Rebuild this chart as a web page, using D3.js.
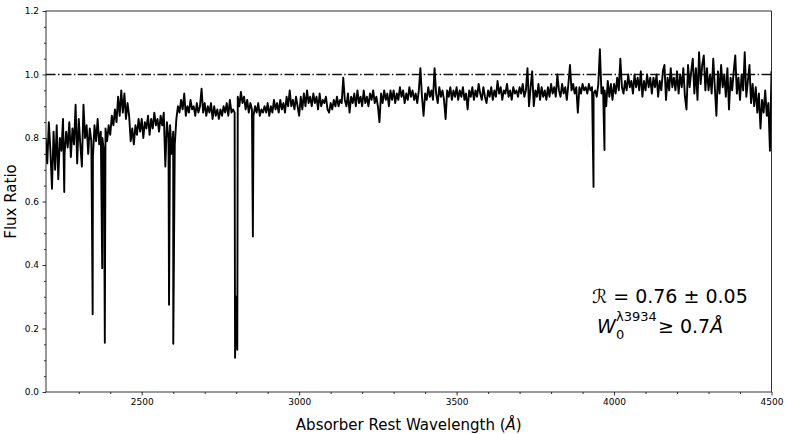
<!DOCTYPE html>
<html lang="en">
<head>
    <meta charset="utf-8">
    <title>Flux Ratio</title>
    <script src="https://d3js.org/d3.v7.min.js"></script>
    <style>
        body { margin: 0; background: #fff; }
        text { font-family: "DejaVu Sans", sans-serif; fill: #000; }
    </style>
</head>
<body>
<svg id="chart"></svg>
<script>

    // flux ratio sampled every 5 Å, one row = 100 Å, first value at wlStart
    const wlStart = 2195, wlStep = 5;
    const flux = [
        0.80,0.72,0.85,0.76,0.64,0.82,0.70,0.84,0.67,0.80,0.76,0.86,0.75,0.82,0.77,0.85,0.74,0.83,0.78,0.905,
        0.72,0.86,0.78,0.71,0.905,0.80,0.84,0.75,0.83,0.79,0.74,0.84,0.79,0.86,0.78,0.82,0.80,0.76,0.83,0.79,
        0.84,0.81,0.87,0.84,0.89,0.85,0.93,0.87,0.95,0.88,0.94,0.86,0.91,0.87,0.79,0.83,0.78,0.84,0.81,0.86,
        0.82,0.86,0.80,0.85,0.83,0.87,0.81,0.86,0.83,0.88,0.84,0.86,0.82,0.87,0.84,0.88,0.71,0.85,0.80,0.84,
        0.75,0.82,0.78,0.86,0.90,0.88,0.92,0.89,0.94,0.87,0.90,0.88,0.92,0.89,0.90,0.87,0.91,0.88,0.90,0.955,
        0.88,0.91,0.87,0.90,0.88,0.91,0.86,0.90,0.87,0.89,0.86,0.89,0.87,0.90,0.88,0.91,0.87,0.92,0.88,0.89,
        0.88,0.30,0.93,0.90,0.945,0.91,0.93,0.89,0.92,0.88,0.91,0.89,0.87,0.90,0.88,0.91,0.87,0.89,0.88,0.90,
        0.88,0.91,0.87,0.90,0.88,0.92,0.89,0.91,0.88,0.92,0.89,0.91,0.88,0.93,0.90,0.95,0.90,0.92,0.89,0.93,
        0.90,0.87,0.93,0.89,0.94,0.90,0.95,0.91,0.93,0.90,0.94,0.91,0.93,0.89,0.94,0.90,0.92,0.91,0.93,0.89,
        0.88,0.91,0.89,0.92,0.90,0.93,0.90,0.92,0.91,0.99,0.92,0.90,0.94,0.88,0.93,0.91,0.94,0.90,0.95,0.91,
        0.93,0.90,0.95,0.91,0.93,0.90,0.94,0.92,0.95,0.91,0.93,0.90,0.85,0.94,0.91,0.95,0.92,0.94,0.90,0.95,
        0.92,0.95,0.91,0.94,0.92,0.96,0.93,0.95,0.91,0.94,0.92,0.96,0.93,0.95,0.92,0.94,0.91,0.95,1.02,0.93,
        0.87,0.94,0.92,0.96,0.93,0.95,0.92,1.02,0.94,0.91,0.96,0.93,0.95,0.92,0.86,0.95,0.93,0.96,0.92,0.95,
        0.93,0.96,0.92,0.95,0.93,0.96,0.92,0.94,0.89,0.95,0.93,0.96,0.92,0.95,0.93,0.97,0.94,0.92,0.96,0.93,
        0.91,0.95,0.93,0.96,0.92,0.95,0.93,0.98,0.94,0.96,0.92,0.95,0.94,0.97,0.93,0.95,0.92,0.96,0.94,0.95,
        0.93,0.96,0.94,0.97,0.93,0.95,1.02,0.90,0.96,1.01,0.90,0.95,0.93,0.97,0.92,0.96,0.93,0.95,0.92,0.96,
        0.93,0.97,0.94,0.96,0.93,1.00,0.95,0.93,0.97,0.94,0.96,0.92,0.97,1.03,0.95,0.97,0.94,0.96,0.88,0.96,
        0.94,0.97,0.95,0.96,0.94,0.97,0.95,0.96,0.94,0.95,0.93,0.97,1.08,0.94,0.96,0.95,0.90,0.98,0.93,0.97,
        0.92,0.97,0.94,0.99,0.95,1.05,0.96,0.94,0.98,0.95,1.00,0.96,0.98,0.94,1.00,0.96,0.99,0.95,1.01,0.93,
        0.98,0.95,1.00,0.96,0.99,0.94,0.99,0.96,1.00,0.93,0.98,0.95,1.01,1.03,0.92,0.99,0.95,1.02,0.96,0.99,
        0.95,1.01,0.94,1.00,0.96,1.02,0.93,0.89,1.03,0.96,1.01,1.05,0.94,1.02,0.92,1.07,0.97,1.03,1.06,0.95,
        1.02,0.95,1.00,0.94,1.05,0.96,0.87,1.01,0.94,1.03,0.96,1.00,0.93,1.02,0.89,0.99,0.95,1.01,1.06,0.94,
        0.99,0.92,1.00,0.95,1.07,0.93,0.98,1.03,0.91,0.97,0.90,0.96,0.88,0.94,0.83,0.92,0.88,0.95,0.87,0.91,0.76,1.01
    ];

    // strong absorption lines: rest wavelength and flux at line centre
    const lineWave  = [2254.0, 2344.2, 2374.5, 2382.8, 2586.7, 2600.2, 2796.4, 2803.5, 2853.0, 3934.8, 3969.6];
    const lineDepth = [0.63,   0.245,  0.39,   0.155,  0.275,  0.152,  0.108,  0.133,  0.49,   0.646,  0.762];

    const xTicks = [2500, 3000, 3500, 4000, 4500];
    const xMinorTicks = [2300, 2400, 2600, 2700, 2800, 2900, 3100, 3200, 3300, 3400,
                         3600, 3700, 3800, 3900, 4100, 4200, 4300, 4400];
    const yTicks = [0.0, 0.2, 0.4, 0.6, 0.8, 1.0, 1.2];
    const yMinorTicks = [0.05, 0.1, 0.15, 0.25, 0.3, 0.35, 0.45, 0.5, 0.55, 0.65, 0.7, 0.75,
                         0.85, 0.9, 0.95, 1.05, 1.1, 1.15];

    let margin = {top: 11, right: 18.5, bottom: 42, left: 46},
        width = 790,
        height = 434,
        chartWidth = width - margin.left - margin.right,
        chartHeight = height - margin.top - margin.bottom;

    let svg = d3.select("#chart")
        .attr("width", width)
        .attr("height", height);

    let x = d3.scaleLinear().domain([2196, 4500]).range([0, chartWidth]);
    let y = d3.scaleLinear().domain([0, 1.2]).range([chartHeight, 0]);

    let spectrum = flux.map((f, i) => ({wl: wlStart + i * wlStep, f: f}));
    lineWave.forEach((w, i) => spectrum.push({wl: w, f: lineDepth[i]}));
    spectrum.sort((a, b) => a.wl - b.wl);

    let g = svg.append("g")
        .attr("transform", `translate(${margin.left},${margin.top})`);

    g.append("clipPath").attr("id", "plotclip")
        .append("rect")
        .attr("width", chartWidth)
        .attr("height", chartHeight);

    // continuum reference at 1.0
    g.append("line")
        .attr("x1", 0).attr("x2", chartWidth)
        .attr("y1", y(1.0)).attr("y2", y(1.0))
        .attr("stroke", "#111")
        .attr("stroke-width", 1.5)
        .attr("stroke-dasharray", "9.6,2.4,1.5,2.4");

    let line = d3.line()
        .x(d => x(d.wl))
        .y(d => y(d.f));

    g.append("path")
        .datum(spectrum)
        .attr("clip-path", "url(#plotclip)")
        .attr("fill", "none")
        .attr("stroke", "#000")
        .attr("stroke-width", 1.9)
        .attr("stroke-linejoin", "round")
        .attr("d", line);

    // axes
    function styleAxis(sel) {
        sel.select(".domain").remove();
        sel.selectAll(".tick line").attr("stroke", "#000").attr("stroke-width", 0.8);
        sel.selectAll(".tick text").attr("font-size", 9).attr("font-family", "DejaVu Sans");
    }

    g.append("g")
        .attr("transform", `translate(0,${chartHeight})`)
        .call(d3.axisBottom(x).tickValues(xTicks).tickSize(3.5).tickPadding(3.5).tickFormat(d3.format("d")))
        .call(styleAxis);

    g.append("g")
        .attr("transform", `translate(0,${chartHeight})`)
        .call(d3.axisBottom(x).tickValues(xMinorTicks).tickSize(2).tickFormat(""))
        .call(styleAxis);

    g.append("g")
        .call(d3.axisLeft(y).tickValues(yTicks).tickSize(3.5).tickPadding(3.5).tickFormat(d3.format(".1f")))
        .call(styleAxis);

    g.append("g")
        .call(d3.axisLeft(y).tickValues(yMinorTicks).tickSize(2).tickFormat(""))
        .call(styleAxis);

    // frame
    g.append("rect")
        .attr("width", chartWidth)
        .attr("height", chartHeight)
        .attr("fill", "none")
        .attr("stroke", "#000")
        .attr("stroke-width", 0.8);

    // axis labels
    let xl = svg.append("text")
        .attr("x", margin.left + chartWidth / 2)
        .attr("y", 430)
        .attr("text-anchor", "middle")
        .attr("font-size", 15);
    xl.append("tspan").text("Absorber Rest Wavelength (");
    xl.append("tspan").attr("font-style", "italic").text("Å");
    xl.append("tspan").text(")");

    svg.append("text")
        .attr("transform", `translate(11,${margin.top + chartHeight / 2}) rotate(-90)`)
        .attr("text-anchor", "middle")
        .attr("dominant-baseline", "central")
        .attr("font-size", 15)
        .text("Flux Ratio");

    // annotation
    svg.append("text")
        .attr("x", 592).attr("y", 303)
        .attr("font-size", 19)
        .text("ℛ = 0.76 ± 0.05");

    let ann = svg.append("g");
    ann.append("text")
        .attr("x", 597).attr("y", 333)
        .attr("font-size", 19)
        .attr("font-style", "italic")
        .text("W");
    ann.append("text")
        .attr("x", 616).attr("y", 339)
        .attr("font-size", 13)
        .text("0");
    ann.append("text")
        .attr("x", 616).attr("y", 321)
        .attr("font-size", 13)
        .text("λ3934");
    let ge = ann.append("text")
        .attr("x", 658).attr("y", 333)
        .attr("font-size", 19);
    ge.append("tspan").text("≥ 0.7");
    ge.append("tspan").attr("font-style", "italic").text("Å");

</script>
</body>
</html>
